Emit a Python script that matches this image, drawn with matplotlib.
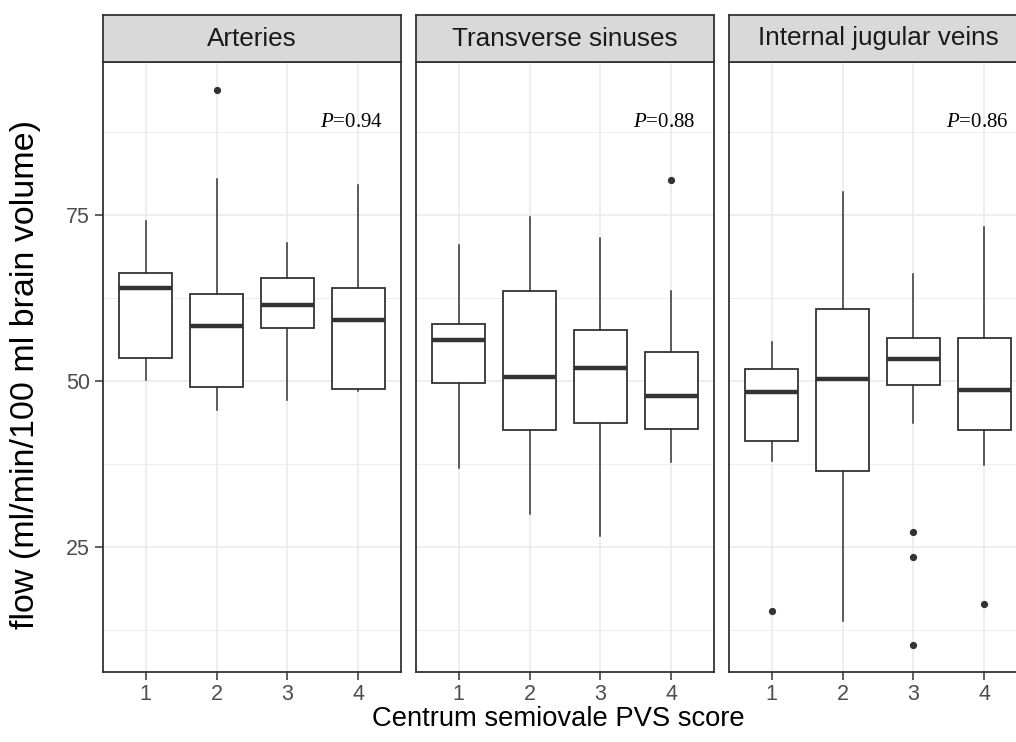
import matplotlib
matplotlib.use("Agg")
import matplotlib.pyplot as plt
from matplotlib.ticker import FixedLocator

# ---- data -------------------------------------------------------------
panels = ["Arteries", "Transverse sinuses", "Internal jugular veins"]
scores = [1, 2, 3, 4]
score_labels = ["1", "2", "3", "4"]
p_labels = ["0.94", "0.88", "0.86"]

arteries_hi = [74.1, 80.4, 70.7, 79.5]
arteries_q3 = [66.2, 63.1, 65.5, 64.0]
arteries_med = [64.0, 58.3, 61.4, 59.1]
arteries_q1 = [53.4, 49.1, 57.9, 48.75]
arteries_lo = [50.15, 45.7, 47.1, 48.5]
arteries_out = [[], [93.8], [], []]

sinus_hi = [70.5, 74.7, 71.5, 63.6]
sinus_q3 = [58.5, 63.5, 57.7, 54.4]
sinus_med = [56.1, 50.6, 51.9, 47.7]
sinus_q1 = [49.7, 42.6, 43.6, 42.8]
sinus_lo = [36.85, 30.0, 26.7, 37.8]
sinus_out = [[], [], [], [80.3]]

jugular_hi = [55.9, 78.5, 66.1, 73.1]
jugular_q3 = [51.8, 60.8, 56.5, 56.4]
jugular_med = [48.4, 50.3, 53.3, 48.6]
jugular_q1 = [41.0, 36.5, 49.35, 42.6]
jugular_lo = [38.0, 13.9, 43.6, 37.3]
jugular_out = [[15.4], [], [27.2, 23.45, 10.3], [16.5]]

y_major = [25, 50, 75]
y_minor = [12.5, 37.5, 62.5, 87.5]

panel_data = [
    (arteries_lo, arteries_q1, arteries_med, arteries_q3, arteries_hi, arteries_out),
    (sinus_lo, sinus_q1, sinus_med, sinus_q3, sinus_hi, sinus_out),
    (jugular_lo, jugular_q1, jugular_med, jugular_q3, jugular_hi, jugular_out),
]

# ---- style ------------------------------------------------------------
plt.rcParams["font.family"] = ["Liberation Sans", "DejaVu Sans"]
plt.rcParams["mathtext.fontset"] = "custom"
plt.rcParams["mathtext.it"] = "Liberation Serif:italic"
plt.rcParams["mathtext.rm"] = "Liberation Serif"

W, H = 1016, 742
fig = plt.figure(figsize=(W / 100, H / 100), dpi=100)
fig.patch.set_facecolor("white")

dark = "#333333"
grid = "#EBEBEB"
tick_col = "#4D4D4D"

panel_lefts = [103, 416, 729]
panel_w = 298
panel_top, panel_bot = 62, 672
strip_top = 15

for i, (name, data, pval) in enumerate(zip(panels, panel_data, p_labels)):
    lo, q1, med, q3, hi, out = data
    left = panel_lefts[i] / W
    ax = fig.add_axes([left, (H - panel_bot) / H, panel_w / W,
                       (panel_bot - panel_top) / H])
    ax.set_facecolor("white")
    ax.set_xlim(0.4, 4.6)
    ax.set_ylim(6.2, 98.0)

    # grid
    for y in y_minor:
        ax.axhline(y, color=grid, lw=0.6, zorder=0)
    for y in y_major:
        ax.axhline(y, color=grid, lw=1.2, zorder=0)
    for x in scores:
        ax.axvline(x, color=grid, lw=1.2, zorder=0)

    stats = []
    for k in range(len(scores)):
        stats.append(dict(whislo=lo[k], q1=q1[k], med=med[k], q3=q3[k],
                          whishi=hi[k], fliers=out[k]))
    ax.bxp(stats, positions=scores, widths=0.75, showcaps=False,
           patch_artist=True, manage_ticks=False,
           boxprops=dict(facecolor="white", edgecolor=dark, linewidth=1.3),
           whiskerprops=dict(color=dark, linewidth=1.1),
           medianprops=dict(color=dark, linewidth=3.2, solid_capstyle="butt"),
           flierprops=dict(marker="o", markerfacecolor=dark,
                           markeredgecolor=dark, markersize=4.2))

    ax.text(4.34, 88.25, r"$\it{P}$=" + pval, ha="right", va="baseline",
            fontsize=15, family="Liberation Serif", color="black")

    for s in ax.spines.values():
        s.set_color(dark)
        s.set_linewidth(1.3)

    ax.xaxis.set_major_locator(FixedLocator(scores))
    ax.set_xticklabels(score_labels)
    ax.yaxis.set_major_locator(FixedLocator(y_major))
    ax.tick_params(axis="both", colors=dark, length=5.5, width=1.1,
                   labelcolor=tick_col, labelsize=15.5)
    ax.tick_params(axis="x", pad=3.5)
    ax.tick_params(axis="y", pad=4)
    if i == 0:
        ax.set_yticklabels([str(v) for v in y_major])
    else:
        ax.tick_params(axis="y", left=False, labelleft=False)

    # facet strip
    sax = fig.add_axes([left, (H - panel_top) / H, panel_w / W,
                        (panel_top - strip_top) / H])
    sax.set_facecolor("#D9D9D9")
    sax.set_xticks([])
    sax.set_yticks([])
    for s in sax.spines.values():
        s.set_color(dark)
        s.set_linewidth(1.3)
    sax.text(0.5, 0.5, name, ha="center", va="center", fontsize=18.8,
             color="#1A1A1A", transform=sax.transAxes)

fig.text(558 / W, 1 - 719 / H, "Centrum semiovale PVS score",
         ha="center", va="center", fontsize=19.7, color="black")
fig.text(26 / W, 1 - 374.5 / H, "flow (ml/min/100 ml brain volume)",
         ha="center", va="center", rotation=90, fontsize=24.5, color="black")

fig.savefig("out.png", dpi=100)
